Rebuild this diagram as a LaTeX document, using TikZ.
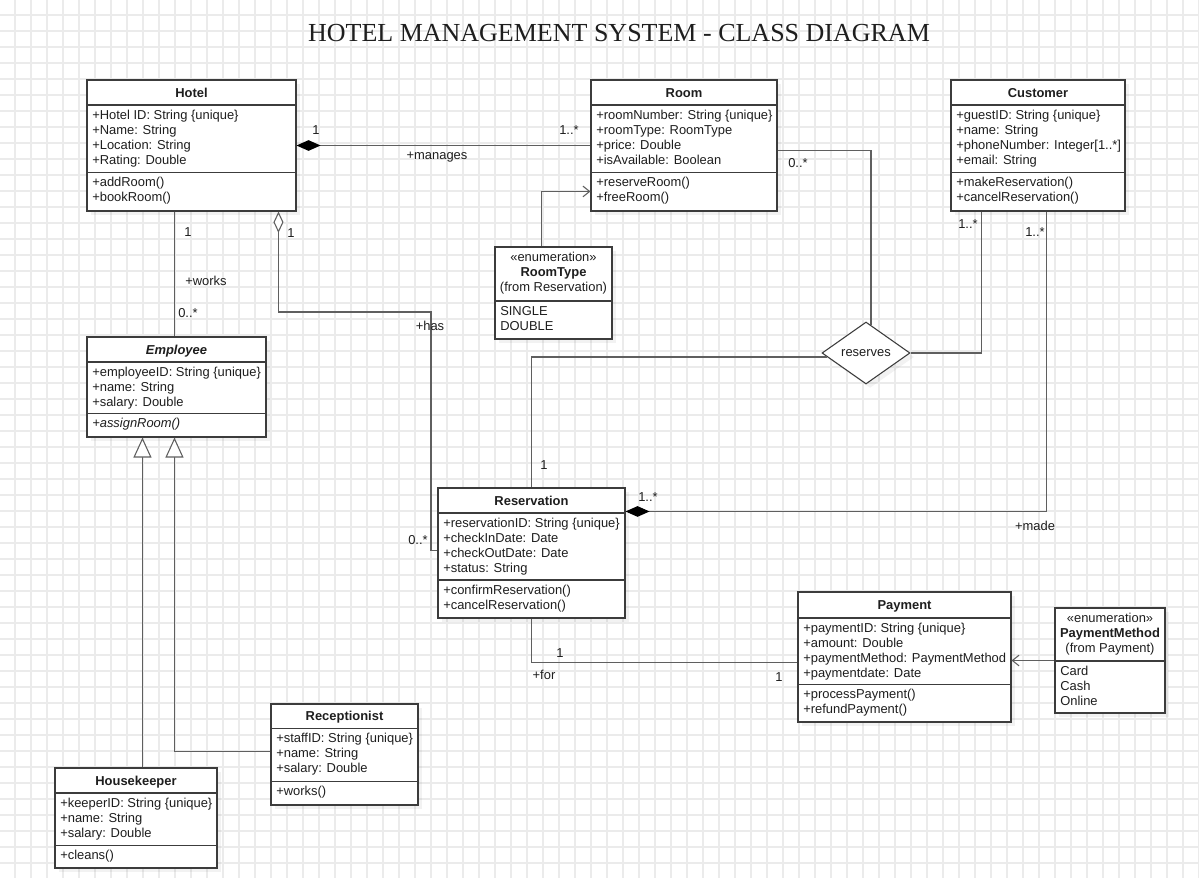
\documentclass[tikz,border=0pt]{standalone}
\usepackage{fontspec}
\setmainfont{Liberation Sans}
\newfontfamily\titlefont{Liberation Serif}
\usetikzlibrary{arrows.meta,calc,fit,shapes.geometric,shadows}
\definecolor{gridc}{HTML}{EBEBEB}
\definecolor{boxc}{HTML}{3C3C3C}
\definecolor{linec}{HTML}{5F5F5F}
\definecolor{txtc}{HTML}{1E1E1E}
\newcommand\umlfs{\fontsize{9.7pt}{11.25pt}\selectfont}
\tikzset{
  gridl/.style={draw=gridc, line width=0.9pt},
  cls/.style={draw=boxc, fill=white, line width=0.8pt, inner sep=0pt,
    drop shadow={shadow xshift=3pt, shadow yshift=-3pt, opacity=0.05, fill=black}},
  sepl/.style={draw=boxc, line width=0.8pt},
  hdr/.style={anchor=base, inner sep=0pt, text=txtc, font=\umlfs\bfseries},
  body/.style={anchor=north west, inner sep=0pt, align=left, text=txtc, font=\umlfs},
  stereo/.style={anchor=north, inner sep=0pt, align=center, text=txtc, font=\umlfs},
  conn/.style={draw=linec, line width=0.8pt},
  lbl/.style={inner sep=0pt, text=txtc, font=\umlfs},
  relshape/.style={diamond, draw=boxc, fill=white, line width=0.8pt, inner sep=0pt,
    minimum width=66pt, minimum height=46.5pt, text=txtc, font=\umlfs,
    drop shadow={shadow xshift=3pt, shadow yshift=-3pt, opacity=0.05, fill=black}},
  compo/.style={{Diamond[length=18pt,width=8pt,color=black]}-},
  aggr/.style={{Diamond[length=16pt,width=7.5pt,fill=white]}-},
  gen/.style={-{Triangle[length=15pt,width=13.5pt,fill=white]}},
  dep/.style={-{Straight Barb[length=5pt,width=8pt]}},
}
\begin{document}
\begin{tikzpicture}[x=0.75pt,y=-0.75pt]
\useasboundingbox (0,0) rectangle (1199,878);
\fill[white] (0,0) rectangle (1199,878);
\foreach \gx in {15,31,...,1199} \draw[gridl] (\gx,0) -- (\gx,878);
\foreach \gy in {15,31,...,878} \draw[gridl] (0,\gy) -- (1199,\gy);

\node[text=txtc, font=\titlefont\fontsize{19.5pt}{23pt}\selectfont] (title) at (619,33) {HOTEL MANAGEMENT SYSTEM - CLASS DIAGRAM};

% Hotel
\node[cls, fit={(87,80)(296,211)}] (hotel) {};
\draw[sepl] (87,105) -- (296,105);
\draw[sepl] (87,172.5) -- (296,172.5);
\node[hdr] (hotelH) at (191.5,97) {Hotel};
\node[body] (hotelA) at (92,108.5) {\strut+Hotel ID: String \{unique\}\\+Name: String\\+Location: String\\+Rating: Double};
\node[body] (hotelM) at (92,176) {\strut+addRoom()\\+bookRoom()};

% Room
\node[cls, fit={(591,80)(777,211)}] (room) {};
\draw[sepl] (591,105) -- (777,105);
\draw[sepl] (591,172.5) -- (777,172.5);
\node[hdr] (roomH) at (684,97) {Room};
\node[body] (roomA) at (596,108.5) {\strut+roomNumber: String \{unique\}\\+roomType: RoomType\\+price: Double\\+isAvailable: Boolean};
\node[body] (roomM) at (596,176) {\strut+reserveRoom()\\+freeRoom()};

% Customer
\node[cls, fit={(951,80)(1125,211)}] (customer) {};
\draw[sepl] (951,105) -- (1125,105);
\draw[sepl] (951,172.5) -- (1125,172.5);
\node[hdr] (customerH) at (1038,97) {Customer};
\node[body] (customerA) at (956,108.5) {\strut+guestID: String \{unique\}\\+name: String\\+phoneNumber: Integer[1..*]\\+email: String};
\node[body] (customerM) at (956,176) {\strut+makeReservation()\\+cancelReservation()};

% RoomType
\node[cls, fit={(495,247)(612,339)}] (roomtype) {};
\draw[sepl] (495,301) -- (612,301);
\node[stereo] (roomtypeH) at (553.5,250.5) {\strut«enumeration»\\\textbf{RoomType}\\(from Reservation)};
\node[body] (roomtypeV) at (500,304.5) {\strut SINGLE\\DOUBLE};

% Employee
\node[cls, fit={(87,337)(266,437)}] (employee) {};
\draw[sepl] (87,362) -- (266,362);
\draw[sepl] (87,413.5) -- (266,413.5);
\node[hdr] (employeeH) at (176.5,354) {\textit{Employee}};
\node[body] (employeeA) at (92,365.5) {\strut+employeeID: String \{unique\}\\+name: String\\+salary: Double};
\node[body] (employeeM) at (92,417) {\strut\textit{+assignRoom()}};

% Reservation
\node[cls, fit={(438,488)(625,618)}] (reservation) {};
\draw[sepl] (438,513) -- (625,513);
\draw[sepl] (438,580) -- (625,580);
\node[hdr] (reservationH) at (531.5,505) {Reservation};
\node[body] (reservationA) at (443,516.5) {\strut+reservationID: String \{unique\}\\+checkInDate: Date\\+checkOutDate: Date\\+status: String};
\node[body] (reservationM) at (443,583.5) {\strut+confirmReservation()\\+cancelReservation()};

% Payment
\node[cls, fit={(798,592)(1011,722)}] (payment) {};
\draw[sepl] (798,618) -- (1011,618);
\draw[sepl] (798,684.5) -- (1011,684.5);
\node[hdr] (paymentH) at (904.5,609.5) {Payment};
\node[body] (paymentA) at (803,621.5) {\strut+paymentID: String \{unique\}\\+amount: Double\\+paymentMethod: PaymentMethod\\+paymentdate: Date};
\node[body] (paymentM) at (803,688) {\strut+processPayment()\\+refundPayment()};

% PaymentMethod
\node[cls, fit={(1055,608)(1165,713)}] (pmethod) {};
\draw[sepl] (1055,661) -- (1165,661);
\node[stereo] (pmethodH) at (1110,612) {\strut«enumeration»\\\textbf{PaymentMethod}\\(from Payment)};
\node[body] (pmethodV) at (1060,664.5) {\strut Card\\Cash\\Online};

% Receptionist
\node[cls, fit={(271,704)(418,805)}] (receptionist) {};
\draw[sepl] (271,728.5) -- (418,728.5);
\draw[sepl] (271,781.5) -- (418,781.5);
\node[hdr] (receptionistH) at (344.5,720.5) {Receptionist};
\node[body] (receptionistA) at (276,731.5) {\strut+staffID: String \{unique\}\\+name: String\\+salary: Double};
\node[body] (receptionistM) at (276,785) {\strut+works()};

% Housekeeper
\node[cls, fit={(55,768)(217,868)}] (housekeeper) {};
\draw[sepl] (55,793) -- (217,793);
\draw[sepl] (55,845.5) -- (217,845.5);
\node[hdr] (housekeeperH) at (136,785) {Housekeeper};
\node[body] (housekeeperA) at (60,796.5) {\strut+keeperID: String \{unique\}\\+name: String\\+salary: Double};
\node[body] (housekeeperM) at (60,849) {\strut+cleans()};

% association class diamond
\node[relshape] (reserves) at (866,353) {reserves};

% connectors
\draw[conn, compo] (hotel.east) -- (room.west);
\draw[conn] ($(hotel.south west)+(88,0)$) -- ($(employee.north west)+(88,0)$);
\draw[conn, aggr] ($(hotel.south west)+(192,0)$) |- (431,312) |- ($(reservation.north west)+(0,63)$);
\draw[conn, dep] ($(roomtype.north west)+(47,0)$) |- ($(room.north west)+(0,112)$);
\draw[conn] ($(room.north east)+(0,71)$) -| ($(reserves.north)+(5,3.5)$);
\draw[conn] ($(customer.south west)+(31,0)$) |- (reserves.east);
\draw[conn] ($(reserves.west)+(6,4)$) -| ($(reservation.north west)+(94,0)$);
\draw[conn, compo] ($(reservation.north east)+(0,24)$) -| ($(customer.south west)+(96,0)$);
\draw[conn] ($(reservation.south west)+(94,0)$) |- ($(payment.north west)+(0,71)$);
\draw[conn, dep] (pmethod.west) -- (pmethod.west -| payment.east);
\draw[conn, gen] ($(housekeeper.north west)+(88,0)$) -- ($(employee.south west)+(56,0)$);
\draw[conn, gen] ($(receptionist.north west)+(0,48)$) -| ($(employee.south west)+(88,0)$);

% labels
\node[lbl] (l1) at (316,130) {1};
\node[lbl] (l2) at (569,130) {1..*};
\node[lbl] (l3) at (437,157) {+manages};
\node[lbl] (l4) at (798,163) {0..*};
\node[lbl] (l5) at (188,232) {1};
\node[lbl] (l6) at (206,281) {+works};
\node[lbl] (l7) at (188,313) {0..*};
\node[lbl] (l8) at (291,233) {1};
\node[lbl] (l9) at (430,326) {+has};
\node[lbl] (l10) at (418,540) {0..*};
\node[lbl] (l11) at (968,224) {1..*};
\node[lbl] (l12) at (1035,232) {1..*};
\node[lbl] (l13) at (544,465) {1};
\node[lbl] (l14) at (648,497) {1..*};
\node[lbl] (l15) at (1035,526) {+made};
\node[lbl] (l16) at (560,653) {1};
\node[lbl] (l17) at (544,675) {+for};
\node[lbl] (l18) at (779,677) {1};
\end{tikzpicture}
\end{document}
